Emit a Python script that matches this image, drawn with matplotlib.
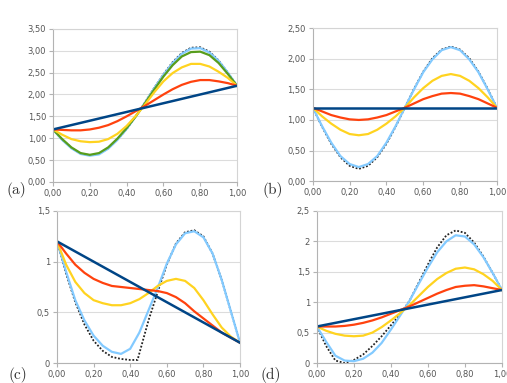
import matplotlib.pyplot as plt
from matplotlib.ticker import FuncFormatter

# Paleta padrao do LibreOffice Calc
AZUL_ESC = "#004586"
VERMELHO = "#ff420e"
AMARELO = "#ffd320"
VERDE = "#579d1c"
AZUL_CL = "#83caff"

x = [0.00, 0.05, 0.10, 0.15, 0.20, 0.25, 0.30, 0.35, 0.40, 0.45, 0.50,
     0.55, 0.60, 0.65, 0.70, 0.75, 0.80, 0.85, 0.90, 0.95, 1.00]
x_ret = [0.0, 1.0]

# (a)
a_preto = [1.20, 0.97, 0.78, 0.65, 0.61, 0.64, 0.77, 0.97, 1.21, 1.50, 1.82,
           2.15, 2.46, 2.74, 2.95, 3.07, 3.08, 2.98, 2.78, 2.50, 2.20]
a_azulcl = [1.20, 0.96, 0.77, 0.64, 0.60, 0.63, 0.76, 0.96, 1.21, 1.50, 1.81,
            2.14, 2.45, 2.72, 2.93, 3.05, 3.06, 2.96, 2.77, 2.50, 2.20]
a_verde = [1.20, 0.98, 0.79, 0.66, 0.62, 0.66, 0.79, 0.99, 1.23, 1.50, 1.80,
           2.11, 2.41, 2.67, 2.87, 2.97, 2.98, 2.90, 2.72, 2.47, 2.20]
a_amarelo = [1.20, 1.08, 0.98, 0.93, 0.91, 0.92, 0.98, 1.10, 1.28, 1.51, 1.77,
             2.05, 2.30, 2.49, 2.62, 2.70, 2.70, 2.64, 2.52, 2.38, 2.20]
a_vermelho = [1.20, 1.19, 1.18, 1.18, 1.20, 1.24, 1.30, 1.39, 1.50, 1.62, 1.74,
              1.87, 2.00, 2.12, 2.22, 2.29, 2.33, 2.33, 2.30, 2.26, 2.20]
a_reta = [1.2, 2.2]

# (b)
b_preto = [1.20, 0.89, 0.61, 0.39, 0.25, 0.20, 0.25, 0.39, 0.61, 0.89, 1.20,
           1.51, 1.79, 2.01, 2.15, 2.20, 2.15, 2.01, 1.79, 1.51, 1.20]
b_azulcl = [1.20, 0.90, 0.63, 0.41, 0.28, 0.23, 0.28, 0.41, 0.63, 0.90, 1.20,
            1.50, 1.78, 1.99, 2.14, 2.19, 2.14, 1.99, 1.78, 1.50, 1.20]
b_amarelo = [1.20, 1.06, 0.94, 0.84, 0.77, 0.75, 0.77, 0.84, 0.94, 1.06, 1.20,
             1.37, 1.52, 1.64, 1.72, 1.75, 1.72, 1.64, 1.52, 1.37, 1.20]
b_vermelho = [1.20, 1.14, 1.08, 1.04, 1.01, 1.00, 1.01, 1.04, 1.08, 1.14, 1.20,
              1.27, 1.34, 1.39, 1.43, 1.44, 1.43, 1.39, 1.34, 1.27, 1.20]
b_reta = [1.2, 1.2]

# (c)
c_x_preto = [0.00, 0.05, 0.10, 0.15, 0.20, 0.25, 0.30, 0.35, 0.40, 0.44, 0.50,
             0.55, 0.60, 0.65, 0.70, 0.75, 0.80, 0.85, 0.90, 0.95, 1.00]
c_preto = [1.20, 0.88, 0.60, 0.38, 0.22, 0.12, 0.06, 0.04, 0.03, 0.03, 0.42,
           0.70, 0.97, 1.18, 1.29, 1.31, 1.25, 1.08, 0.82, 0.51, 0.20]
c_azulcl = [1.20, 0.90, 0.62, 0.42, 0.27, 0.17, 0.11, 0.09, 0.14, 0.30, 0.52,
            0.74, 0.98, 1.17, 1.28, 1.30, 1.24, 1.08, 0.82, 0.51, 0.20]
c_amarelo = [1.20, 0.97, 0.80, 0.69, 0.62, 0.59, 0.57, 0.57, 0.59, 0.63, 0.69,
             0.76, 0.81, 0.83, 0.81, 0.74, 0.62, 0.48, 0.35, 0.26, 0.20]
c_vermelho = [1.20, 1.08, 0.97, 0.89, 0.83, 0.79, 0.76, 0.75, 0.74, 0.73, 0.72,
              0.71, 0.69, 0.65, 0.59, 0.51, 0.44, 0.37, 0.30, 0.25, 0.20]
c_reta = [1.2, 0.2]

# (d)
d_preto = [0.60, 0.28, 0.04, 0.00, 0.05, 0.14, 0.28, 0.44, 0.62, 0.80, 1.02,
           1.32, 1.62, 1.90, 2.10, 2.18, 2.14, 1.98, 1.75, 1.48, 1.20]
d_azulcl = [0.60, 0.35, 0.12, 0.04, 0.03, 0.07, 0.17, 0.33, 0.55, 0.78, 1.02,
            1.30, 1.57, 1.82, 2.00, 2.10, 2.08, 1.95, 1.74, 1.48, 1.20]
d_amarelo = [0.60, 0.53, 0.48, 0.45, 0.44, 0.45, 0.50, 0.59, 0.70, 0.82, 0.95,
             1.10, 1.25, 1.38, 1.48, 1.55, 1.57, 1.54, 1.46, 1.35, 1.20]
d_vermelho = [0.60, 0.60, 0.60, 0.61, 0.63, 0.66, 0.70, 0.75, 0.81, 0.87, 0.93,
              1.00, 1.07, 1.14, 1.20, 1.25, 1.27, 1.28, 1.26, 1.23, 1.20]
d_reta = [0.6, 1.2]

xticks = [0.0, 0.2, 0.4, 0.6, 0.8, 1.0]


def virgula(casas):
    def f(v, pos):
        if casas is None:
            s = ("%.1f" % v).rstrip("0").rstrip(".")
        else:
            s = "%.*f" % (casas, v)
        return s.replace(".", ",")
    return FuncFormatter(f)


def eixo(ax, ymax, passo, casas):
    ax.set_xlim(0, 1)
    ax.set_ylim(0, ymax)
    ax.set_xticks(xticks)
    n = int(round(ymax / passo))
    ax.set_yticks([i * passo for i in range(n + 1)])
    ax.xaxis.set_major_formatter(virgula(2))
    ax.yaxis.set_major_formatter(virgula(casas))
    ax.grid(axis="y", color="#dcdcdc", linewidth=0.8)
    ax.set_axisbelow(True)
    for s in ax.spines.values():
        s.set_color("#d4d4d4")
        s.set_linewidth(0.8)
    ax.spines["left"].set_color("#b3b3b3")
    ax.spines["bottom"].set_color("#b3b3b3")
    ax.tick_params(labelsize=6, colors="#b3b3b3", labelcolor="#555555",
                   length=3, width=0.8, pad=2)


def curvas(ax, xp, preto, azulcl, amarelo, vermelho, reta, verde=None):
    ax.plot(xp, preto, color="#222222", linestyle=(0, (1, 1)), linewidth=1.3)
    ax.plot(x, azulcl, color=AZUL_CL, linewidth=1.6)
    if verde is not None:
        ax.plot(x, verde, color=VERDE, linewidth=1.6)
    ax.plot(x, amarelo, color=AMARELO, linewidth=1.6)
    ax.plot(x, vermelho, color=VERMELHO, linewidth=1.6)
    ax.plot(x_ret, reta, color=AZUL_ESC, linewidth=1.8)


fig = plt.figure(figsize=(5.07, 3.83), dpi=100)

axa = fig.add_axes([0.1045, 0.525, 0.363, 0.3995])
curvas(axa, x, a_preto, a_azulcl, a_amarelo, a_vermelho, a_reta, a_verde)
eixo(axa, 3.5, 0.5, 2)

axb = fig.add_axes([0.617, 0.527, 0.363, 0.3995])
curvas(axb, x, b_preto, b_azulcl, b_amarelo, b_vermelho, b_reta)
eixo(axb, 2.5, 0.5, 2)

axc = fig.add_axes([0.1124, 0.0522, 0.361, 0.397])
curvas(axc, c_x_preto, c_preto, c_azulcl, c_amarelo, c_vermelho, c_reta)
eixo(axc, 1.5, 0.5, None)

axd = fig.add_axes([0.625, 0.0522, 0.365, 0.397])
curvas(axd, x, d_preto, d_azulcl, d_amarelo, d_vermelho, d_reta)
eixo(axd, 2.5, 0.5, None)

rotulos = [("(a)", 7, 190), ("(b)", 262, 190), ("(c)", 8, 375), ("(d)", 261, 375)]
for txt, px, py in rotulos:
    fig.text(px / 507, 1 - py / 383, txt, fontsize=11, family="cmr10",
             color="#333333", va="center", ha="left")

fig.savefig("out.png", dpi=100)
